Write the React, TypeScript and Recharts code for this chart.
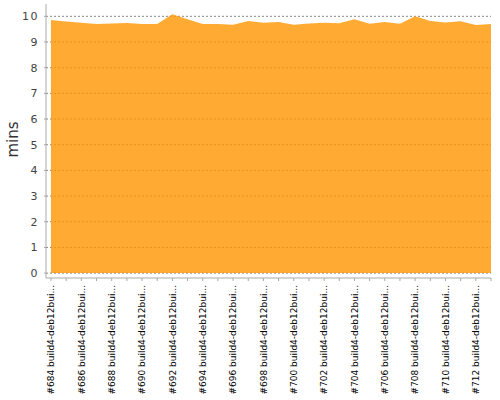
import React from 'react';
import { AreaChart, Area, XAxis, YAxis, CartesianGrid } from 'recharts';

const builds = [
  '#684', '#685', '#686', '#687', '#688', '#689', '#690', '#691', '#692', '#693',
  '#694', '#695', '#696', '#697', '#698', '#699', '#700', '#701', '#702', '#703',
  '#704', '#705', '#706', '#707', '#708', '#709', '#710', '#711', '#712', '#713',
];
const agent = 'build4-deb12bui...';
const mins = [
  9.86, 9.8, 9.75, 9.7, 9.72, 9.74, 9.7, 9.7, 10.08, 9.89,
  9.7, 9.7, 9.67, 9.82, 9.75, 9.78, 9.67, 9.72, 9.75, 9.73,
  9.89, 9.71, 9.78, 9.71, 10.0, 9.82, 9.76, 9.81, 9.66, 9.7,
];
const yTicks = [0, 1, 2, 3, 4, 5, 6, 7, 8, 9, 10];

const data = builds.map((b, i) => ({ build: `${b} ${agent}`, mins: mins[i] }));

const FONT = '"DejaVu Sans", sans-serif';

const XTick = (props: any) => {
  const { x, y, payload, index } = props;
  if (index % 2 !== 0) return null;
  return (
    <g transform={`translate(${x},${y})`}>
      <text
        transform="rotate(-90)"
        textAnchor="end"
        dy="0.35em"
        fontSize={9}
        fontFamily={FONT}
        fill="#000"
      >
        {payload.value}
      </text>
    </g>
  );
};

const YTick = (props: any) => {
  const { x, y, payload } = props;
  return (
    <text
      x={x}
      y={y}
      textAnchor="end"
      dy="0.36em"
      fontSize={11}
      fontFamily={FONT}
      fill="#444"
      letterSpacing={1.5}
    >
      {payload.value}
    </text>
  );
};

const YLabel = (props: any) => {
  const { viewBox } = props;
  const cx = viewBox.x + 12.5;
  const cy = viewBox.y + viewBox.height / 2 - 1.5;
  return (
    <text
      x={cx}
      y={cy}
      transform={`rotate(-90, ${cx}, ${cy})`}
      textAnchor="middle"
      dominantBaseline="central"
      fontSize={15}
      fontFamily={FONT}
      fill="#333"
    >
      mins
    </text>
  );
};

export default function App() {
  return (
    <div style={{ position: 'absolute', left: 0, top: 0, background: '#fff' }}>
      <AreaChart
        width={500}
        height={400}
        data={data}
        margin={{ top: 4, right: 9, bottom: 0, left: 0 }}
      >
        <CartesianGrid
          vertical={false}
          horizontal
          syncWithTicks
          stroke="#888"
          strokeDasharray="2 2"
        />
        <XAxis
          dataKey="build"
          type="category"
          interval={0}
          height={122}
          padding={{ left: 5, right: 0 }}
          tickSize={3}
          tickMargin={4}
          stroke="#aaa"
          tick={<XTick />}
        />
        <YAxis
          type="number"
          domain={[-0.19, 10.48]}
          ticks={yTicks}
          width={46}
          tickSize={2}
          tickMargin={5}
          stroke="#aaa"
          allowDataOverflow
          tick={<YTick />}
          label={<YLabel />}
        />
        <Area
          type="linear"
          dataKey="mins"
          baseValue={0}
          stroke="none"
          fill="rgb(255,150,0)"
          fillOpacity={0.8}
          isAnimationActive={false}
        />
      </AreaChart>
    </div>
  );
}
